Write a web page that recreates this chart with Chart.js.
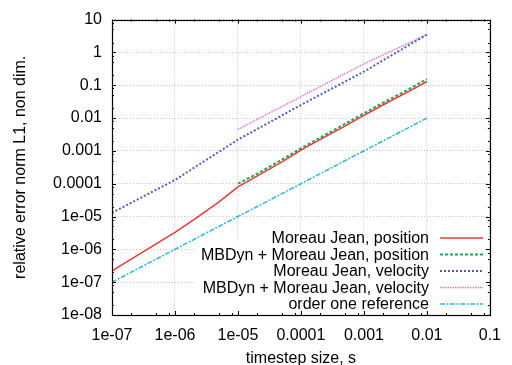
<!DOCTYPE html>
<html>
<head>
<meta charset="utf-8">
<script src="https://cdn.jsdelivr.net/npm/chart.js@4.4.1/dist/chart.umd.min.js"></script>
<style>
  html, body { margin: 0; padding: 0; background: #fff; }
</style>
</head>
<body>
<canvas id="myChart" width="512" height="365"></canvas>
<script>
// values
const xTickValues = [1e-7, 1e-6, 1e-5, 1e-4, 1e-3, 1e-2, 1e-1];
const xTickLabels = ['1e-07', '1e-06', '1e-05', '0.0001', '0.001', '0.01', '0.1'];
const yTickValues = [1e-8, 1e-7, 1e-6, 1e-5, 1e-4, 1e-3, 1e-2, 1e-1, 1, 10];
const yTickLabels = ['1e-08', '1e-07', '1e-06', '1e-05', '0.0001', '0.001', '0.01', '0.1', '1', '10'];

const step_MJpos = [1e-7, 1e-6, 2e-6, 5e-6, 1e-5, 2e-5, 5e-5, 1e-4, 2e-4, 5e-4, 1e-3, 2e-3, 5e-3, 1e-2];
const err_MJpos  = [2.2e-7, 3.3e-6, 8.0e-6, 2.8e-5, 8.0e-5, 1.7e-4, 4.6e-4, 1.05e-3, 2.2e-3, 5.7e-3, 1.2e-2, 2.5e-2, 6.3e-2, 0.13];

const step_MBpos = [1e-5, 2e-5, 5e-5, 1e-4, 2e-4, 5e-4, 1e-3, 2e-3, 5e-3, 1e-2];
const err_MBpos  = [1.0e-4, 2.0e-4, 5.4e-4, 1.2e-3, 2.5e-3, 6.6e-3, 1.4e-2, 2.9e-2, 7.3e-2, 0.155];

const step_MJvel = [1e-7, 1e-6, 1e-5, 1e-4, 1e-3, 1e-2];
const err_MJvel  = [1.3e-5, 1.3e-4, 2.2e-3, 0.025, 0.26, 3.5];

const step_MBvel = [1e-5, 1e-4, 1e-3, 1e-2];
const err_MBvel  = [4.5e-3, 0.045, 0.45, 3.5];

const step_ref = [1e-7, 1e-2];
const err_ref  = [1e-7, 1e-2];

const FONT = "'Liberation Sans', Arial, sans-serif";

function pts(xs, ys) {
    return xs.map((x, i) => ({x: x, y: ys[i]}));
}

// gnuplot-like frame, mirrored ticks and opaque key
const framePlugin = {
    id: 'frame',
    afterDatasetsDraw(chart) {
        const ctx = chart.ctx;
        const a = chart.chartArea;
        const xs = chart.scales.x, ys = chart.scales.y;
        ctx.save();

        // key box
        ctx.fillStyle = '#fff';
        ctx.fillRect(196, 242, 293, 70);
        ctx.font = '16px ' + FONT;
        ctx.textAlign = 'right';
        ctx.textBaseline = 'middle';
        chart.data.datasets.forEach((ds, i) => {
            const y = 238 + i * 16.5;
            ctx.fillStyle = '#000';
            ctx.fillText(ds.label, 429, y + 1);
            ctx.strokeStyle = ds.borderColor;
            ctx.lineWidth = ds.borderWidth;
            ctx.setLineDash(ds.borderDash || []);
            ctx.beginPath();
            ctx.moveTo(440, y);
            ctx.lineTo(483, y);
            ctx.stroke();
        });
        ctx.setLineDash([]);

        // ticks
        ctx.strokeStyle = '#000';
        ctx.lineWidth = 1;
        ctx.beginPath();
        const minors = [2, 5, 8];
        xTickValues.forEach((v, i) => {
            const px = Math.round(xs.getPixelForValue(v)) + 0.5;
            ctx.moveTo(px, a.bottom); ctx.lineTo(px, a.bottom - 4);
            ctx.moveTo(px, a.top); ctx.lineTo(px, a.top + 4);
            if (i < xTickValues.length - 1) {
                minors.forEach(m => {
                    const q = Math.round(xs.getPixelForValue(v * m)) + 0.5;
                    ctx.moveTo(q, a.bottom); ctx.lineTo(q, a.bottom - 2);
                    ctx.moveTo(q, a.top); ctx.lineTo(q, a.top + 2);
                });
            }
        });
        yTickValues.forEach((v, i) => {
            const py = Math.round(ys.getPixelForValue(v)) + 0.5;
            ctx.moveTo(a.left, py); ctx.lineTo(a.left + 4, py);
            ctx.moveTo(a.right, py); ctx.lineTo(a.right - 4, py);
            if (i < yTickValues.length - 1) {
                minors.forEach(m => {
                    const q = Math.round(ys.getPixelForValue(v * m)) + 0.5;
                    ctx.moveTo(a.left, q); ctx.lineTo(a.left + 2, q);
                    ctx.moveTo(a.right, q); ctx.lineTo(a.right - 2, q);
                });
            }
        });
        ctx.stroke();

        // border
        ctx.lineWidth = 1.2;
        ctx.strokeRect(Math.round(a.left) + 0.5, Math.round(a.top) + 0.5,
                       Math.round(a.right - a.left), Math.round(a.bottom - a.top));
        ctx.restore();
    }
};

const myChart = new Chart(document.getElementById('myChart'), {
    type: 'line',
    data: {
        datasets: [{
            label: 'Moreau Jean, position',
            data: pts(step_MJpos, err_MJpos),
            borderColor: 'rgb(238, 55, 55)',
            borderWidth: 1.5
        }, {
            label: 'MBDyn + Moreau Jean, position',
            data: pts(step_MBpos, err_MBpos),
            borderColor: 'rgb(30, 170, 75)',
            borderDash: [3, 2],
            borderWidth: 2
        }, {
            label: 'Moreau Jean, velocity',
            data: pts(step_MJvel, err_MJvel),
            borderColor: 'rgb(80, 95, 190)',
            borderDash: [2, 2],
            borderWidth: 2
        }, {
            label: 'MBDyn + Moreau Jean, velocity',
            data: pts(step_MBvel, err_MBvel),
            borderColor: 'rgb(225, 125, 205)',
            borderDash: [1.5, 1],
            borderWidth: 1.5
        }, {
            label: 'order one reference',
            data: pts(step_ref, err_ref),
            borderColor: 'rgb(40, 185, 215)',
            borderDash: [5, 1.5, 2, 1.5],
            borderWidth: 1.5
        }]
    },
    options: {
        responsive: false,
        animation: false,
        layout: { padding: { top: 17, right: 9, left: 0, bottom: 0 } },
        elements: { point: { radius: 0 }, line: { tension: 0, fill: false } },
        plugins: { legend: { display: false }, tooltip: { enabled: false } },
        scales: {
            x: {
                type: 'logarithmic',
                min: 1e-7,
                max: 0.1,
                afterBuildTicks: s => { s.ticks = xTickValues.map(v => ({value: v})); },
                afterFit: s => { s.height = 50; },
                ticks: {
                    autoSkip: false,
                    maxRotation: 0,
                    padding: 11,
                    color: '#000',
                    font: { family: FONT, size: 16 },
                    callback: (v, i) => xTickLabels[i]
                },
                grid: { color: '#c4c4c4', lineWidth: 1, drawTicks: false },
                border: { display: false, dash: [1, 2] },
                title: {
                    display: true,
                    text: 'timestep size, s',
                    color: '#000',
                    font: { family: FONT, size: 16, lineHeight: 1 },
                    padding: { top: 0, bottom: -2 }
                }
            },
            y: {
                type: 'logarithmic',
                min: 1e-8,
                max: 10,
                afterBuildTicks: s => { s.ticks = yTickValues.map(v => ({value: v})); },
                afterFit: s => { s.width = 112; },
                ticks: {
                    autoSkip: false,
                    padding: 10,
                    color: '#000',
                    font: { family: FONT, size: 16 },
                    callback: (v, i) => yTickLabels[i]
                },
                grid: { color: '#c4c4c4', lineWidth: 1, drawTicks: false },
                border: { display: false, dash: [1, 2] },
                title: {
                    display: true,
                    text: 'relative error norm L1, non dim.',
                    color: '#000',
                    font: { family: FONT, size: 16, lineHeight: 1 },
                    padding: { top: 13, bottom: 0 }
                }
            }
        }
    },
    plugins: [framePlugin]
});
</script>
</body>
</html>
